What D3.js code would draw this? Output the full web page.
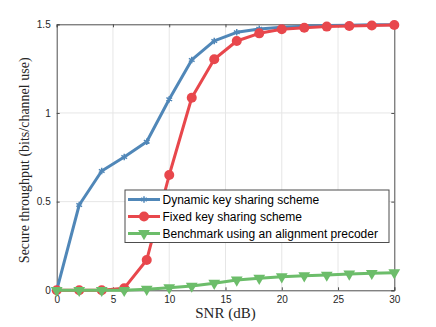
<!DOCTYPE html>
<html>
<head>
<meta charset="utf-8">
<script src="https://cdn.jsdelivr.net/npm/d3@7"></script>
<style>
  body { margin: 0; background: #fff; }
  svg { display: block; }
</style>
</head>
<body>
<svg id="chart" width="436" height="327"></svg>
<script>
var snr = [0, 2, 4, 6, 8, 10, 12, 14, 16, 18, 20, 22, 24, 26, 28, 30];
var dynamicKey = [0, 0.481, 0.673, 0.752, 0.838, 1.077, 1.299, 1.406, 1.455, 1.474, 1.483, 1.489, 1.493, 1.495, 1.497, 1.498];
var fixedKey = [0, 0, 0, 0.012, 0.171, 0.65, 1.086, 1.303, 1.406, 1.449, 1.472, 1.481, 1.487, 1.49, 1.493, 1.496];
var benchmark = [0, 0, 0, 0, 0.006, 0.015, 0.024, 0.04, 0.058, 0.068, 0.077, 0.082, 0.086, 0.092, 0.096, 0.099];
var xTicks = [0, 5, 10, 15, 20, 25, 30];
var yTicks = [0, 0.5, 1, 1.5];
var seriesNames = ['Dynamic key sharing scheme', 'Fixed key sharing scheme', 'Benchmark using an alignment precoder'];

var blue = '#5087b8', red = '#e8474c', green = '#6cbd6a';
var axisCol = '#4d4d4d', textCol = '#262626';

var svg = d3.select('#chart');
var pLeft = 56.7, pRight = 394.3, pTop = 24.3, pBottom = 290.3;

var x = d3.scaleLinear().domain([0, 30]).range([pLeft, pRight]);
var y = d3.scaleLinear().domain([0, 1.5]).range([pBottom, pTop]);

// grid
svg.append('g').selectAll('line').data(xTicks.slice(1, -1)).enter().append('line')
  .attr('x1', function(d) { return x(d); }).attr('x2', function(d) { return x(d); })
  .attr('y1', pTop).attr('y2', pBottom)
  .attr('stroke', '#e6e6e6').attr('stroke-width', 1);
svg.append('g').selectAll('line').data(yTicks.slice(1, -1)).enter().append('line')
  .attr('y1', function(d) { return y(d); }).attr('y2', function(d) { return y(d); })
  .attr('x1', pLeft).attr('x2', pRight)
  .attr('stroke', '#e6e6e6').attr('stroke-width', 1);

// axes
var fmt = function(d) { return d3.format('')(d); };
var xAx = svg.append('g').attr('transform', 'translate(0,' + pBottom + ')')
  .call(d3.axisBottom(x).tickValues(xTicks).tickSize(-3).tickPadding(6).tickFormat(fmt));
var xTop = svg.append('g').attr('transform', 'translate(0,' + pTop + ')')
  .call(d3.axisTop(x).tickValues(xTicks).tickSize(-3).tickFormat(''));
var yAx = svg.append('g').attr('transform', 'translate(' + pLeft + ',0)')
  .call(d3.axisLeft(y).tickValues(yTicks).tickSize(-3).tickPadding(6).tickFormat(fmt));
var yRight = svg.append('g').attr('transform', 'translate(' + pRight + ',0)')
  .call(d3.axisRight(y).tickValues(yTicks).tickSize(-3).tickFormat(''));
[xAx, xTop, yAx, yRight].forEach(function(g) {
  g.select('.domain').attr('stroke', axisCol).attr('stroke-width', 1);
  g.selectAll('.tick line').attr('stroke', axisCol);
  g.selectAll('.tick text').attr('fill', textCol)
    .style('font-family', '"Liberation Sans", Arial, sans-serif').style('font-size', '10px');
});

// axis labels
svg.append('text').attr('x', (pLeft + pRight) / 2).attr('y', 318)
  .attr('text-anchor', 'middle').attr('fill', textCol)
  .style('font-family', '"Liberation Serif", "DejaVu Serif", serif').style('font-size', '15px')
  .text('SNR (dB)');
svg.append('text').attr('transform', 'translate(29,' + ((pTop + pBottom) / 2 + 3) + ') rotate(-90)')
  .attr('text-anchor', 'middle').attr('fill', textCol)
  .style('font-family', '"Liberation Serif", "DejaVu Serif", serif').style('font-size', '14px')
  .text('Secure throughput (bits/channel use)');

var series = [
  {name: seriesNames[0], vals: dynamicKey, color: blue, sym: 'star'},
  {name: seriesNames[1], vals: fixedKey, color: red, sym: 'circle'},
  {name: seriesNames[2], vals: benchmark, color: green, sym: 'tri'}
];

function drawMarker(g, sym, color) {
  if (sym == 'circle') {
    g.append('circle').attr('r', 5).attr('fill', color);
  } else if (sym == 'tri') {
    g.append('path').attr('d', d3.symbol(d3.symbolTriangle, 60)()).attr('transform', 'rotate(180)')
      .attr('fill', color);
  } else {
    g.append('path').attr('d', d3.symbol(d3.symbolAsterisk, 30)())
      .attr('fill', 'none').attr('stroke', color).attr('stroke-width', 1.5);
  }
}

var line = d3.line().x(function(d, i) { return x(snr[i]); }).y(function(d) { return y(d); });

series.forEach(function(s) {
  var g = svg.append('g');
  g.append('path').datum(s.vals).attr('d', line)
    .attr('fill', 'none').attr('stroke', s.color).attr('stroke-width', 3)
    .attr('stroke-linejoin', 'round');
  s.vals.forEach(function(v, i) {
    var m = g.append('g').attr('transform', 'translate(' + x(snr[i]) + ',' + y(v) + ')');
    drawMarker(m, s.sym, s.color);
  });
});

// legend
var lg = svg.append('g').attr('transform', 'translate(125,190)');
lg.append('rect').attr('width', 264).attr('height', 52.5)
  .attr('fill', '#fff').attr('stroke', axisCol).attr('stroke-width', 1);
series.forEach(function(s, i) {
  var row = lg.append('g').attr('transform', 'translate(0,' + (9.5 + i * 17) + ')');
  row.append('line').attr('x1', 3).attr('x2', 35).attr('stroke', s.color).attr('stroke-width', 3);
  var m = row.append('g').attr('transform', 'translate(19,0)');
  drawMarker(m, s.sym, s.color);
  row.append('text').attr('x', 37.5).attr('y', 4).attr('fill', '#000')
    .style('font-family', '"Liberation Sans", Arial, sans-serif').style('font-size', '12px')
    .text(s.name);
});
</script>
</body>
</html>
